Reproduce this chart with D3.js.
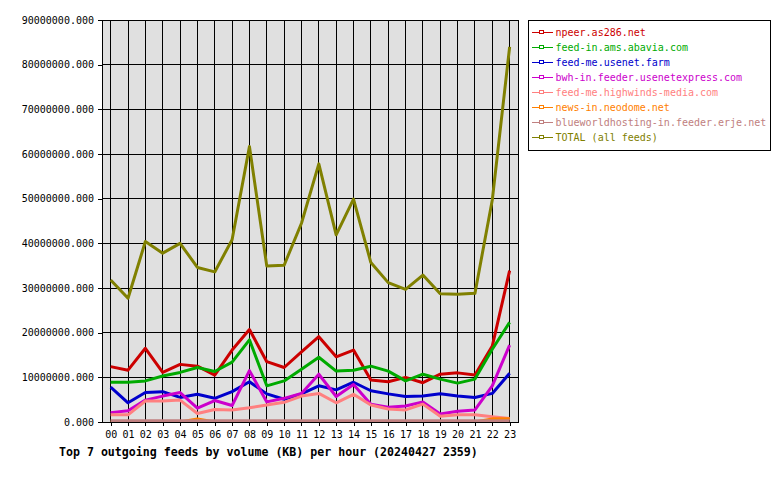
<!DOCTYPE html>
<html><head><meta charset="utf-8">
<script src="https://cdn.jsdelivr.net/npm/d3@7"></script>
<style>body{margin:0;background:#fff}</style></head>
<body><svg id="c" width="780" height="480"></svg>
<script>
const hours = ["00","01","02","03","04","05","06","07","08","09","10","11","12","13","14","15","16","17","18","19","20","21","22","23"];
const yTicks = [0,10e6,20e6,30e6,40e6,50e6,60e6,70e6,80e6,90e6];
const UNIT = 1e6; // values below in millions of KB
const feedNames = ["npeer.as286.net","feed-in.ams.abavia.com","feed-me.usenet.farm","bwh-in.feeder.usenetexpress.com","feed-me.highwinds-media.com","news-in.neodome.net","blueworldhosting-in.feeder.erje.net","TOTAL (all feeds)"];
const feedColors = ["#cc0000","#00aa00","#0000cc","#cc00cc","#ff8080","#ff8000","#c08080","#808000"];
const npeer = [12.4,11.6,16.5,11.1,12.9,12.5,10.5,16.1,20.7,13.5,12.2,15.7,19.1,14.6,16.1,9.4,9.0,10.0,8.8,10.7,11.0,10.5,17.0,33.9];
const feedInAms = [8.9,8.9,9.2,10.3,11.1,12.2,11.3,13.4,18.4,8.1,9.2,11.8,14.5,11.4,11.6,12.5,11.4,9.2,10.7,9.6,8.7,9.6,16.3,22.3];
const usenetFarm = [7.8,4.3,6.6,6.8,5.5,6.2,5.3,6.8,9.0,6.3,5.1,6.3,8.1,7.2,8.9,7.0,6.3,5.7,5.8,6.3,5.8,5.5,6.4,10.9];
const bwh = [2.1,2.5,4.9,5.8,6.6,3.1,4.8,3.7,11.5,4.5,5.3,6.4,10.7,5.7,8.4,4.0,3.3,3.6,4.5,1.8,2.4,2.7,8.1,17.2];
const highwinds = [1.6,1.6,4.7,4.7,4.9,1.9,2.8,2.7,3.2,3.8,4.4,5.8,6.4,4.3,6.2,3.8,2.9,2.7,4.0,1.3,1.6,1.6,1.2,0.8];
const neodome = [0,0,0,0,0,0.7,0,0,0,0,0,0,0,0,0,0,0,0,0,0,0,0,0.7,0.7];
const blueworld = [0.3,0.3,0.3,0.3,0.3,0.3,0.3,0.3,0.3,0.3,0.3,0.3,0.3,0.3,0.3,0.3,0.3,0.3,0.3,0.3,0.3,0.3,0.3,0.3];
const total = [31.8,27.7,40.4,37.8,40.0,34.6,33.6,40.8,61.7,34.9,35.1,44.5,57.8,41.9,49.9,35.7,31.2,29.7,32.9,28.7,28.6,28.8,49.7,84.0];
const titleText = "Top 7 outgoing feeds by volume (KB) per hour (20240427 2359)";

const seriesData = [npeer,feedInAms,usenetFarm,bwh,highwinds,neodome,blueworld,total];
const FONT = "'DejaVu Sans Mono', monospace";

const svg = d3.select("#c");
const L = 102, R = 518.3, T = 20, B = 422;
const x = d3.scaleLinear().domain([-0.5, 23.5]).range([L, R]);
const y = d3.scaleLinear().domain([0, 90e6]).range([B, T]);

svg.append("rect").attr("x", L).attr("y", T).attr("width", R - L).attr("height", B - T).attr("fill", "#e0e0e0");

// grid
const grid = svg.append("g").attr("stroke", "#000").attr("stroke-width", 1).attr("shape-rendering", "crispEdges");
grid.selectAll("line.h").data(yTicks).join("line")
  .attr("x1", L).attr("x2", R).attr("y1", d => y(d)).attr("y2", d => y(d));
grid.selectAll("line.v").data(d3.range(hours.length)).join("line")
  .attr("y1", T).attr("y2", B).attr("x1", d => x(d)).attr("x2", d => x(d));

// axes
const yAxis = d3.axisLeft(y).tickValues(yTicks).tickSize(4).tickPadding(4).tickFormat(d3.format(".3f"));
const gy = svg.append("g").attr("transform", `translate(${L},0)`).call(yAxis);
gy.select(".domain").remove();
gy.selectAll("line").attr("stroke", "#000").attr("shape-rendering", "crispEdges");
gy.selectAll("text").attr("font-family", FONT).attr("font-size", "10px").attr("fill", "#000");

const xAxis = d3.axisBottom(x).tickValues(d3.range(hours.length)).tickSize(4).tickPadding(5).tickFormat(i => hours[i]);
const gx = svg.append("g").attr("transform", `translate(0,${B})`).call(xAxis);
gx.select(".domain").remove();
gx.selectAll("line").attr("stroke", "#000").attr("shape-rendering", "crispEdges");
gx.selectAll("text").attr("font-family", FONT).attr("font-size", "10px").attr("fill", "#000");

// clip
svg.append("clipPath").attr("id", "pc").append("rect").attr("x", L).attr("y", T).attr("width", R - L).attr("height", B - T);

const line = d3.line().x((d, i) => x(i)).y(d => y(d * UNIT));
svg.append("g").attr("clip-path", "url(#pc)").selectAll("path").data(seriesData).join("path")
  .attr("d", d => line(d)).attr("fill", "none")
  .attr("stroke", (d, i) => feedColors[i]).attr("stroke-width", 3).attr("stroke-linejoin", "round");

// border
svg.append("rect").attr("x", L).attr("y", T).attr("width", R - L).attr("height", B - T)
  .attr("fill", "none").attr("stroke", "#000").attr("shape-rendering", "crispEdges");

// title
svg.append("text").attr("x", 59).attr("y", 455.5).attr("font-family", FONT).attr("font-weight", "bold")
  .attr("font-size", "11.6px").attr("fill", "#000").text(titleText);

// legend
const lg = svg.append("g");
lg.append("rect").attr("x", 528.5).attr("y", 20.5).attr("width", 241.5).attr("height", 129.5)
  .attr("fill", "#fff").attr("stroke", "#000").attr("shape-rendering", "crispEdges");
const rows = lg.selectAll("g.row").data(feedNames).join("g").attr("transform", (d, i) => `translate(0,${32.5 + i * 15})`);
rows.append("line").attr("x1", 532).attr("x2", 553).attr("y1", 0).attr("y2", 0)
  .attr("stroke", (d, i) => feedColors[i]).attr("stroke-width", 1);
rows.append("rect").attr("x", 539.5).attr("y", -2).attr("width", 4).attr("height", 3)
  .attr("fill", "#fff").attr("stroke", (d, i) => feedColors[i]).attr("stroke-width", 1);
rows.append("text").attr("x", 555.5).attr("y", 0).attr("dy", "0.35em").attr("font-family", FONT)
  .attr("font-size", "10px").attr("fill", (d, i) => feedColors[i]).text(d => d);
</script></body></html>
